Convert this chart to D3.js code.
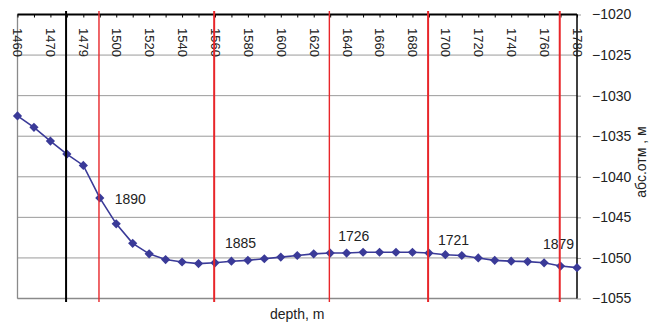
<!DOCTYPE html>
<html>
<head>
<meta charset="utf-8">
<script src="https://cdn.jsdelivr.net/npm/d3@7"></script>
<style>
  html, body { margin: 0; padding: 0; background: #fff; }
  svg { display: block; font-family: "Liberation Sans", Arial, sans-serif; }
</style>
</head>
<body>
<svg id="chart" width="662" height="324"></svg>
<script>
// depth along the well (category axis, every other one labelled)
const categories = [1460, 1465, 1470, 1475, 1479, 1490, 1500, 1510, 1520, 1530,
  1540, 1550, 1560, 1570, 1580, 1590, 1600, 1610, 1620, 1630,
  1640, 1650, 1660, 1670, 1680, 1690, 1700, 1710, 1720, 1730,
  1740, 1750, 1760, 1770, 1780];

// absolute elevation, m
const elevation = [-1032.5, -1033.9, -1035.6, -1037.2, -1038.6, -1042.6, -1045.8, -1048.2, -1049.5, -1050.2,
  -1050.5, -1050.7, -1050.6, -1050.4, -1050.3, -1050.1, -1049.9, -1049.7, -1049.5, -1049.4,
  -1049.4, -1049.3, -1049.3, -1049.3, -1049.3, -1049.4, -1049.6, -1049.7, -1050.0, -1050.3,
  -1050.4, -1050.45, -1050.6, -1051.0, -1051.2];

const yTicks = [-1020, -1025, -1030, -1035, -1040, -1045, -1050, -1055];

// boundary markers along depth
const boundaryDepths = [1475, 1490, 1560, 1630, 1690, 1770];
const boundaryKinds  = ["black", "red", "red", "red", "red", "red"];

// annotation texts placed at boundaries
const noteDepths = [1490, 1560, 1630, 1690, 1770];
const noteTexts  = ["1890", "1885", "1726", "1721", "1879"];

const xTitle = "depth, m";
const yTitle = "абс.отм , м";

const svg = d3.select("#chart");
const L = 17.5, R = 577, T = 14.5, B = 298.5;

const x = d3.scalePoint().domain(categories).range([L, R]);
const y = d3.scaleLinear().domain([-1055, -1020]).range([B, T]);

// horizontal grid
svg.append("g").selectAll("line").data(yTicks).join("line")
  .attr("x1", L).attr("x2", R)
  .attr("y1", d => y(d)).attr("y2", d => y(d))
  .attr("stroke", "#9a9a9a").attr("stroke-width", 1);

// left and bottom frame
svg.append("line").attr("x1", L).attr("x2", L).attr("y1", T).attr("y2", B)
  .attr("stroke", "#8a8a8a").attr("stroke-width", 1.3);
svg.append("line").attr("x1", L).attr("x2", R).attr("y1", B).attr("y2", B)
  .attr("stroke", "#8a8a8a").attr("stroke-width", 1.3);

// right value axis
const yAxis = svg.append("g").attr("transform", `translate(${R},0)`)
  .call(d3.axisRight(y).tickValues(yTicks).tickSize(4).tickPadding(11).tickFormat(d3.format("d")));
yAxis.select(".domain").remove();
yAxis.selectAll(".tick line").attr("stroke", "#9a9a9a");
yAxis.selectAll("text").attr("font-size", 14).attr("fill", "#222")
  .attr("font-family", "Liberation Sans, Arial, sans-serif");
svg.append("line").attr("x1", R).attr("x2", R).attr("y1", T).attr("y2", B)
  .attr("stroke", "#000").attr("stroke-width", 1.5);

// top category axis, ticks pointing inside, rotated labels
const xAxis = svg.append("g").attr("transform", `translate(0,${T})`)
  .call(d3.axisBottom(x).tickSize(3).tickFormat((d, i) => i % 2 === 0 ? d : ""));
xAxis.select(".domain").remove();
xAxis.selectAll(".tick line").attr("stroke", "#000");
xAxis.selectAll("text")
  .attr("y", 0).attr("x", 13.5).attr("dy", "0.35em")
  .attr("transform", "rotate(90)")
  .attr("text-anchor", "start")
  .attr("font-size", 13).attr("fill", "#222")
  .attr("font-family", "Liberation Sans, Arial, sans-serif");
svg.append("line").attr("x1", L).attr("x2", R).attr("y1", T).attr("y2", T)
  .attr("stroke", "#000").attr("stroke-width", 1.8);

// annotation texts
const noteOffset = {
  1490: { dx: 15, dy: 6.5, anchor: "start" },
  1560: { dx: 10, dy: -15, anchor: "start" },
  1630: { dx: 8, dy: -12, anchor: "start" },
  1690: { dx: 9, dy: -8.5, anchor: "start" },
  1770: { dx: 13.5, dy: -17.5, anchor: "end" }
};
svg.append("g").selectAll("text").data(noteDepths).join("text")
  .attr("x", d => x(d) + noteOffset[d].dx)
  .attr("y", d => y(elevation[categories.indexOf(d)]) + noteOffset[d].dy)
  .attr("text-anchor", d => noteOffset[d].anchor)
  .attr("font-size", 14).attr("fill", "#222")
  .text((d, i) => noteTexts[i]);

// elevation series
svg.append("path").datum(elevation)
  .attr("fill", "none").attr("stroke", "#3a3a98").attr("stroke-width", 1.6)
  .attr("d", d3.line().x((d, i) => x(categories[i])).y(d => y(d)));
svg.append("g").selectAll("path").data(elevation).join("path")
  .attr("transform", (d, i) => `translate(${x(categories[i])},${y(d)})`)
  .attr("d", "M0,-4.6L4.6,0L0,4.6L-4.6,0Z")
  .attr("fill", "#3a3a98");

// boundary lines
svg.append("g").selectAll("line").data(boundaryDepths).join("line")
  .attr("x1", d => x(d) - 0.8).attr("x2", d => x(d) - 0.8)
  .attr("y1", 11).attr("y2", 302)
  .attr("stroke", (d, i) => boundaryKinds[i] === "black" ? "#000" : "#e8262a")
  .attr("stroke-width", (d, i) => (d === 1490 || d === 1630) ? 1.4 : 2);

// axis titles
svg.append("text").attr("x", (L + R) / 2).attr("y", 318.5)
  .attr("text-anchor", "middle").attr("font-size", 14).attr("fill", "#222")
  .text(xTitle);
svg.append("text")
  .attr("transform", `translate(646,162) rotate(-90)`)
  .attr("text-anchor", "middle").attr("font-size", 14).attr("fill", "#222")
  .text(yTitle);
</script>
</body>
</html>
